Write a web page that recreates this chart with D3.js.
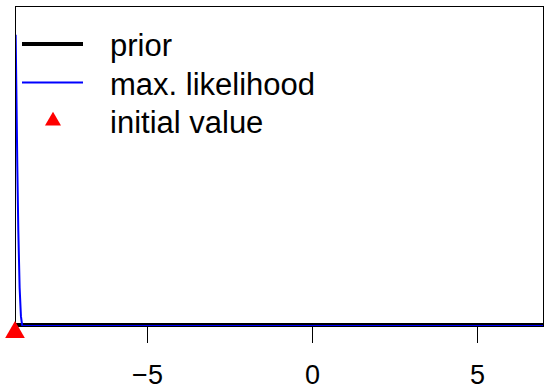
<!DOCTYPE html>
<meta charset="utf-8">
<style>
body { margin: 0; background: #fff; }
svg { display: block; font-family: "Liberation Sans", Arial, sans-serif; }
</style>
<svg width="544" height="388"></svg>
<script src="https://cdn.jsdelivr.net/npm/d3@7"></script>
<script>

// prior density (flat, essentially zero on this scale)
var priorX = [-9, 7];
var priorY = [0.003, 0.003];

// max. likelihood curve: very narrow spike at the left edge
var mlX = [-8.98, -8.96, -8.93, -8.9, -8.86, -8.82, -8.78, -8.5, 7];
var mlY = [0.91, 0.75, 0.5, 0.3, 0.12, 0.03, 0.0, 0.0, 0.0];

// initial value
var initX = [-9];
var initY = [-0.02];

var xTicks = [-5, 0, 5];
var legendLabels = ["prior", "max. likelihood", "initial value"];

var svg = d3.select("svg"),
    width = +svg.attr("width"),
    height = +svg.attr("height");

var x = d3.scaleLinear().domain([-9, 7]).range([15, 543]);
var y = d3.scaleLinear().domain([0, 1]).range([326, 6]);

svg.append("defs").append("clipPath")
    .attr("id", "clip")
  .append("rect")
    .attr("x", x.range()[0])
    .attr("y", y.range()[1])
    .attr("width", x.range()[1] - x.range()[0])
    .attr("height", y.range()[0] - y.range()[1]);

var line = d3.line()
    .x(function(d) { return x(d[0]); })
    .y(function(d) { return y(d[1]); });

var plot = svg.append("g").attr("clip-path", "url(#clip)");

plot.append("path")
    .datum(d3.zip(priorX, priorY))
    .attr("d", line)
    .attr("fill", "none")
    .attr("stroke", "#000")
    .attr("stroke-width", 4);

plot.append("path")
    .datum(d3.zip(mlX, mlY))
    .attr("d", line)
    .attr("fill", "none")
    .attr("stroke", "#0000ff")
    .attr("stroke-width", 2);

// box
svg.append("rect")
    .attr("x", x.range()[0] + 0.5)
    .attr("y", y.range()[1] + 0.5)
    .attr("width", x.range()[1] - x.range()[0])
    .attr("height", y.range()[0] - y.range()[1])
    .attr("fill", "none")
    .attr("stroke", "#000")
    .attr("stroke-width", 1);

svg.append("g")
  .selectAll("path")
  .data(d3.zip(initX, initY))
  .enter().append("path")
    .attr("d", d3.symbol().type(d3.symbolTriangle).size(168))
    .attr("transform", function(d) { return "translate(" + x(d[0]) + "," + y(d[1]) + ")"; })
    .attr("fill", "#ff0000");

// x axis
var xAxis = d3.axisBottom(x)
    .tickValues(xTicks)
    .tickSize(17)
    .tickPadding(8)
    .tickFormat(function(d) { return d < 0 ? "\u2212" + Math.abs(d) : d; });

var ax = svg.append("g")
    .attr("transform", "translate(0," + y.range()[0] + ")")
    .call(xAxis);
ax.select(".domain").remove();
ax.selectAll("line").attr("stroke", "#000").attr("stroke-width", 1);
ax.selectAll("text")
    .attr("fill", "#000")
    .attr("dy", null)
    .attr("y", 58)
    .style("font-size", "27px")
    .style("font-family", "Liberation Sans, Arial, sans-serif");

// legend
var legend = svg.append("g");
var rowY = function(i) { return 44 + i * 38.5; };

legend.append("line")
    .attr("x1", 22).attr("x2", 83)
    .attr("y1", rowY(0)).attr("y2", rowY(0))
    .attr("stroke", "#000").attr("stroke-width", 4);
legend.append("line")
    .attr("x1", 22).attr("x2", 83)
    .attr("y1", rowY(1)).attr("y2", rowY(1))
    .attr("stroke", "#0000ff").attr("stroke-width", 2);
legend.append("path")
    .attr("d", d3.symbol().type(d3.symbolTriangle).size(111))
    .attr("transform", "translate(53," + rowY(2) + ")")
    .attr("fill", "#ff0000");

legend.selectAll("text")
  .data(legendLabels)
  .enter().append("text")
    .attr("x", 110)
    .attr("y", function(d, i) { return rowY(i) + 12; })
    .style("font-size", "31px")
    .attr("fill", "#000")
    .text(function(d) { return d; });

</script>
